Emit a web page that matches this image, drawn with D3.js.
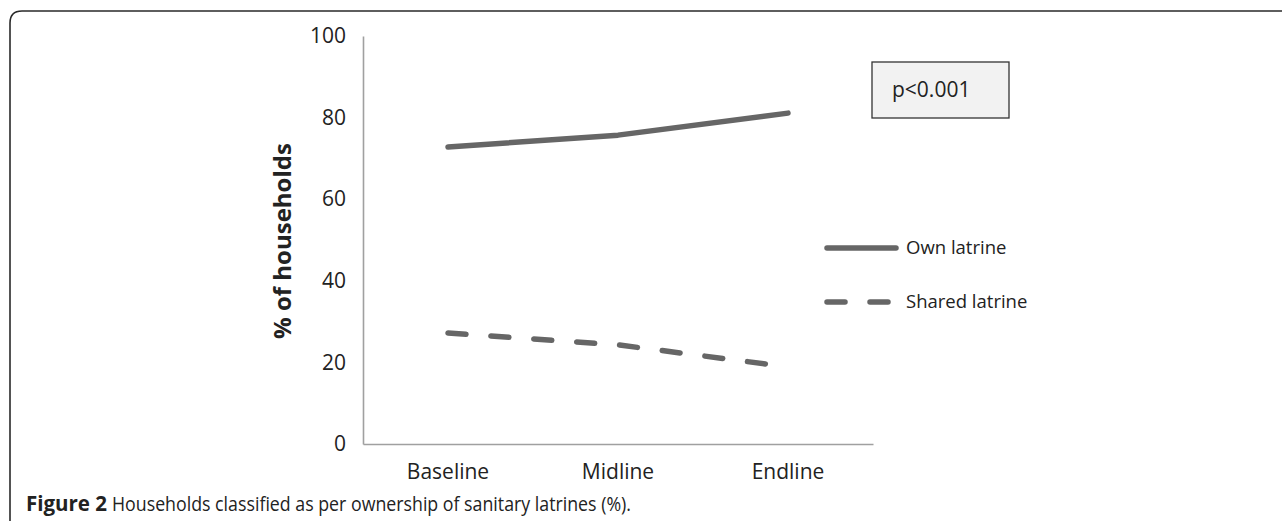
<!DOCTYPE html>
<html><head><meta charset="utf-8">
<script src="https://cdn.jsdelivr.net/npm/d3@7"></script>
<style>
html,body{margin:0;padding:0;background:#fff;}
svg{display:block;font-family:"Open Sans",sans-serif;}
</style></head>
<body>
<svg id="chart" width="1282" height="521"></svg>
<script>
const categories = ["Baseline", "Midline", "Endline"];
const ownLatrine = [72.8, 75.7, 81.1];
const sharedLatrine = [27.2, 24.3, 18.9];
const yTicks = [0, 20, 40, 60, 80, 100];
const seriesNames = ["Own latrine", "Shared latrine"];
const yTitle = "% of households";
const pText = "p<0.001";
const captionBold = "Figure 2";
const captionRest = "Households classified as per ownership of sanitary latrines (%).";

const svg = d3.select("#chart");
const x = d3.scaleBand().domain(categories).range([363, 873]).padding(0);
const y = d3.scaleLinear().domain([0, 100]).range([444, 36]);

// outer frame
svg.append("path")
  .attr("d", "M10,530 L10,23 Q10,11 22,11 L1290,11")
  .attr("fill", "none").attr("stroke", "#2a2a2a").attr("stroke-width", 1.6);

// y axis
const yAxis = d3.axisLeft(y).tickValues(yTicks).tickSize(0).tickPadding(17);
const gy = svg.append("g").attr("transform", "translate(363,0)").call(yAxis);
gy.select(".domain").attr("stroke", "#a0a0a0").attr("stroke-width", 1.6);
gy.selectAll("text").attr("font-size", 21).attr("fill", "#222").attr("font-family", "Open Sans");

// x axis
const xAxis = d3.axisBottom(x).tickSize(0).tickPadding(20);
const gx = svg.append("g").attr("transform", "translate(0,444)").call(xAxis);
gx.select(".domain").attr("stroke", "#a0a0a0").attr("stroke-width", 1.6);
gx.selectAll("text").attr("font-size", 21).attr("fill", "#222").attr("font-family", "Open Sans");

// y title
svg.append("text")
  .attr("transform", "translate(291,241) rotate(-90)")
  .attr("text-anchor", "middle")
  .attr("font-size", 24).attr("font-weight", "bold").attr("fill", "#222")
  .text(yTitle);

const line = d3.line().x((d, i) => x(categories[i]) + x.bandwidth() / 2).y(d => y(d));
const col = "#666666";
svg.append("path").datum(ownLatrine).attr("d", line)
  .attr("fill", "none").attr("stroke", col).attr("stroke-width", 5.5).attr("stroke-linecap", "round").attr("stroke-linejoin", "round");
svg.append("path").datum(sharedLatrine).attr("d", line)
  .attr("fill", "none").attr("stroke", col).attr("stroke-width", 5.5).attr("stroke-linecap", "round")
  .attr("stroke-dasharray", "18,25");

// p-value box
svg.append("rect").attr("x", 872).attr("y", 62).attr("width", 137).attr("height", 56)
  .attr("fill", "#f2f2f2").attr("stroke", "#333").attr("stroke-width", 1.3);
svg.append("text").attr("x", 892).attr("y", 97).attr("font-size", 21).attr("fill", "#222").text(pText);

// legend
const legY = [248, 302];
svg.append("line").attr("x1", 827).attr("x2", 896).attr("y1", legY[0]).attr("y2", legY[0])
  .attr("stroke", col).attr("stroke-width", 5.5).attr("stroke-linecap", "round");
svg.append("line").attr("x1", 827).attr("x2", 896).attr("y1", legY[1]).attr("y2", legY[1])
  .attr("stroke", col).attr("stroke-width", 5.5).attr("stroke-linecap", "round").attr("stroke-dasharray", "18,25");
seriesNames.forEach((n, i) => {
  svg.append("text").attr("x", 906).attr("y", legY[i]).attr("dy", "0.35em")
    .attr("font-size", 18.5).attr("fill", "#222").text(n);
});

// caption
svg.append("text").attr("x", 26).attr("y", 511).attr("font-size", 20.5).attr("fill", "#222")
  .attr("font-weight", "bold")
  .attr("textLength", 81).attr("lengthAdjust", "spacingAndGlyphs").text(captionBold);
svg.append("text").attr("x", 112).attr("y", 511).attr("font-size", 20.5).attr("fill", "#222")
  .attr("textLength", 519).attr("lengthAdjust", "spacingAndGlyphs").text(captionRest);
</script>
</body></html>
